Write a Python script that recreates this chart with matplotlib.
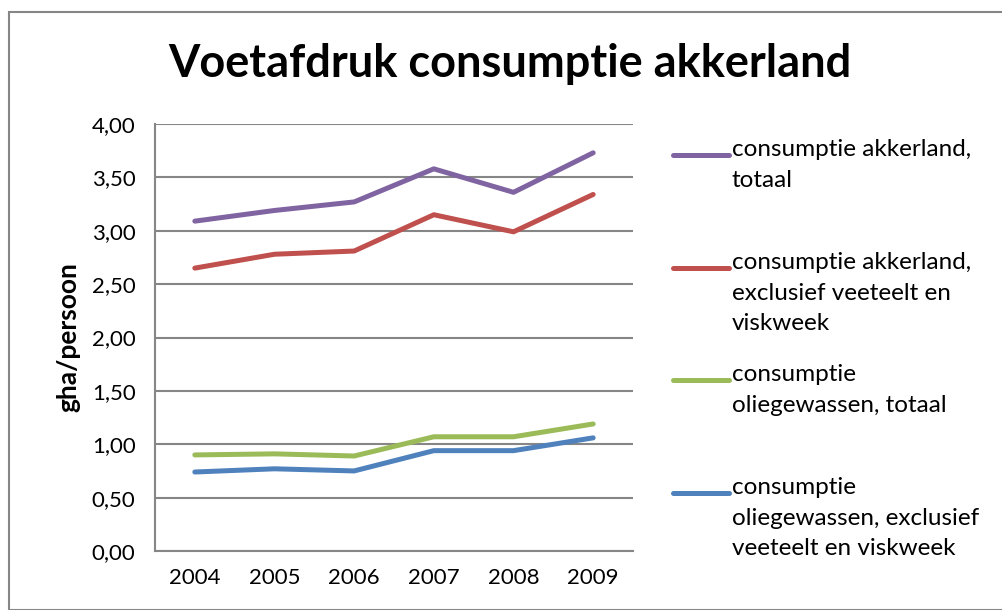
import matplotlib.pyplot as plt
from matplotlib.lines import Line2D
from matplotlib.patches import Rectangle

years = ["2004", "2005", "2006", "2007", "2008", "2009"]
akker_totaal = [3.09, 3.19, 3.27, 3.58, 3.36, 3.73]
akker_excl = [2.65, 2.78, 2.81, 3.15, 2.99, 3.34]
olie_totaal = [0.90, 0.91, 0.89, 1.07, 1.07, 1.19]
olie_excl = [0.74, 0.77, 0.75, 0.94, 0.94, 1.06]
labels = [
    "consumptie akkerland,\ntotaal",
    "consumptie akkerland,\nexclusief veeteelt en\nviskweek",
    "consumptie\noliegewassen, totaal",
    "consumptie\noliegewassen, exclusief\nveeteelt en viskweek",
]
colors = ["#8064A2", "#C0504D", "#9BBB59", "#4F81BD"]
yticks = [0, 0.5, 1.0, 1.5, 2.0, 2.5, 3.0, 3.5, 4.0]

plt.rcParams['font.family'] = ['Lato', 'DejaVu Sans']
W, H = 1002, 610
fig = plt.figure(figsize=(W / 100, H / 100), dpi=100)
fig.patches.append(Rectangle((9 / W, 0), 1.2, 1 - 12 / H, transform=fig.transFigure,
                             fill=False, edgecolor="#868686", lw=1.5))

ax = fig.add_axes([155 / W, 1 - 551 / H, (633 - 155) / W, (551 - 124) / H])
x = list(range(len(years)))
series = [akker_totaal, akker_excl, olie_totaal, olie_excl]
for vals, c in zip(series, colors):
    ax.plot(x, vals, color=c, lw=3.6, solid_capstyle="round", zorder=3)

ax.set_xlim(-0.5, len(years) - 0.5)
ax.set_ylim(0, 4)
ax.set_yticks(yticks)
ax.set_yticklabels([f"{v:.2f}".replace(".", ",") for v in yticks], fontsize=16)
ax.set_xticks(x)
ax.set_xticklabels(years, fontsize=16)
ax.tick_params(length=0, pad=14)
ax.tick_params(axis="x", pad=12)
ax.grid(axis="y", color="#868686", lw=1.5)
for s in ["top", "right"]:
    ax.spines[s].set_visible(False)
for s in ["left", "bottom"]:
    ax.spines[s].set_color("#868686")
    ax.spines[s].set_linewidth(1.5)
ax.set_ylabel("gha/persoon", fontsize=19, fontweight="bold", labelpad=8)

fig.text(510 / W, 1 - 64 / H, "Voetafdruk consumptie akkerland", fontsize=32.5,
         fontweight="bold", ha="center", va="center")

# legend, evenly spaced like Excel
leg_y = [155, 268, 380, 493]
for ly, lab, c in zip(leg_y, labels, colors):
    fig.add_artist(Line2D([673 / W, 729 / W], [1 - ly / H] * 2, color=c, lw=3.6,
                          solid_capstyle="round", transform=fig.transFigure))
    fig.text(732 / W, 1 - (ly - 16) / H, lab, fontsize=17.5, ha="left", va="top",
             linespacing=1.57)

fig.savefig("out.png", dpi=100)
